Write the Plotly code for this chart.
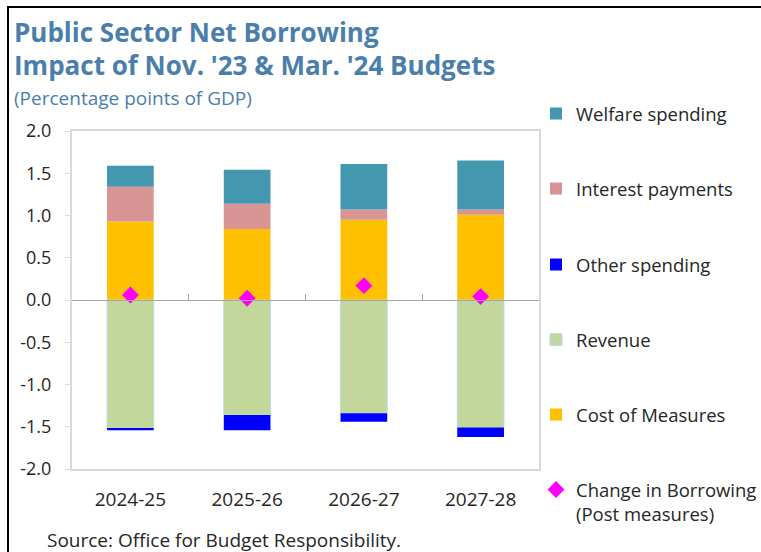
import plotly.graph_objects as go

# Fiscal years on the category axis
years = ["2024-25", "2025-26", "2026-27", "2027-28"]

# Components of the change in net borrowing (percentage points of GDP)
cost_of_measures = [0.93, 0.84, 0.95, 1.01]
interest_payments = [0.41, 0.30, 0.12, 0.06]
welfare_spending = [0.25, 0.40, 0.54, 0.58]
revenue = [-1.52, -1.36, -1.34, -1.51]
other_spending = [-0.02, -0.18, -0.10, -0.11]
change_in_borrowing = [0.06, 0.02, 0.17, 0.04]

# Value axis ticks
y_tick_values = [-2.0, -1.5, -1.0, -0.5, 0.0, 0.5, 1.0, 1.5, 2.0]
y_tick_labels = ["-2.0", "-1.5", "-1.0", "-0.5", "0.0", "0.5", "1.0", "1.5", "2.0"]

FONT = "Open Sans"
TEXT = "#262626"
TITLE_BLUE = "#4a7eab"
FRAME_GREY = "#d9d9d9"
AXIS_GREY = "#a6a6a6"

# Plot area in pixels, used to place the free-floating text
L, R, T, B = 72, 539, 131, 469
W, H = 761, 552


def px_x(px):
    return (px - L) / (R - L)


def px_y(py):
    return (B - py) / (B - T)


fig = go.Figure()

# name, values, fill, outline, legend id, vertical centre of the legend entry
bar_series = [
    ("Cost of Measures", cost_of_measures, "#ffc000", None, "legend5", 414),
    ("Revenue", revenue, "#c4d79b", "#b7dde8", "legend4", 339),
    ("Other spending", other_spending, "#0000ff", None, "legend3", 264),
    ("Interest payments", interest_payments, "#d99594", None, "legend2", 188),
    ("Welfare spending", welfare_spending, "#4397ae", None, "legend", 113),
]
legend_rows = {}
for name, values, color, edge, legend_id, row in bar_series:
    fig.add_trace(
        go.Bar(
            name=name,
            x=years,
            y=values,
            marker=dict(
                color=color,
                line=dict(color=edge if edge else color, width=1 if edge else 0),
            ),
            legend=legend_id,
        )
    )
    legend_rows[legend_id] = row

fig.add_trace(
    go.Scatter(
        name="Change in Borrowing<br>(Post measures)",
        x=years,
        y=change_in_borrowing,
        xaxis="x2",
        mode="markers",
        marker=dict(symbol="diamond", size=13, color="#ff00ff"),
        legend="legend6",
    )
)
legend_rows["legend6"] = 489

legend_style = dict(
    x=px_x(536),
    xanchor="left",
    yanchor="top",
    font=dict(family=FONT, size=18.5, color=TEXT),
    valign="top",
    bgcolor="rgba(0,0,0,0)",
)
legends = {lid: dict(legend_style, y=px_y(row - 18)) for lid, row in legend_rows.items()}

fig.update_layout(
    width=W,
    height=H,
    margin=dict(l=L, r=W - R, t=T, b=H - B, pad=0, autoexpand=False),
    paper_bgcolor="white",
    plot_bgcolor="white",
    barmode="relative",
    bargap=0.6,
    font=dict(family=FONT, size=18, color=TEXT),
    showlegend=True,
    xaxis=dict(
        type="category",
        categoryorder="array",
        categoryarray=years,
        range=[-0.5, 3.5],
        showline=True,
        mirror=True,
        linecolor=FRAME_GREY,
        linewidth=2,
        ticks="",
        showgrid=False,
        zeroline=False,
        tickfont=dict(size=19, color=TEXT),
        ticklabelstandoff=12,
    ),
    xaxis2=dict(
        type="category",
        categoryorder="array",
        categoryarray=years,
        range=[-0.5, 3.5],
        overlaying="x",
        anchor="free",
        position=0.5,
        side="bottom",
        showline=True,
        linecolor=AXIS_GREY,
        linewidth=1,
        ticks="inside",
        tickson="boundaries",
        ticklen=6,
        tickcolor=AXIS_GREY,
        showticklabels=False,
        showgrid=False,
        zeroline=False,
    ),
    yaxis=dict(
        range=[-2, 2],
        tickvals=y_tick_values,
        ticktext=y_tick_labels,
        ticks="outside",
        ticklen=5,
        tickcolor=FRAME_GREY,
        showline=True,
        mirror=True,
        linecolor=FRAME_GREY,
        linewidth=2,
        showgrid=False,
        zeroline=False,
        tickfont=dict(size=18, color=TEXT),
        ticklabelstandoff=10,
    ),
    **legends,
)

annotations = [
    dict(text="<b>Public Sector Net Borrowing</b>", x=px_x(12), y=px_y(32),
         font=dict(size=26, color=TITLE_BLUE)),
    dict(text="<b>Impact of Nov. '23 &amp; Mar. '24 Budgets</b>", x=px_x(12), y=px_y(65),
         font=dict(size=26, color=TITLE_BLUE)),
    dict(text="(Percentage points of GDP)", x=px_x(12), y=px_y(98),
         font=dict(size=19, color=TITLE_BLUE)),
    dict(text="Source: Office for Budget Responsibility.", x=px_x(45), y=px_y(540),
         font=dict(size=19, color=TEXT)),
]
for a in annotations:
    fig.add_annotation(xref="paper", yref="paper", xanchor="left", yanchor="middle",
                       showarrow=False, font_family=FONT, **a)

# Outer frame edges (left and top)
fig.add_shape(type="line", xref="paper", yref="paper",
              x0=px_x(8), x1=px_x(8), y0=px_y(560), y1=px_y(6),
              line=dict(color="black", width=2))
fig.add_shape(type="line", xref="paper", yref="paper",
              x0=px_x(8), x1=px_x(770), y0=px_y(7), y1=px_y(7),
              line=dict(color="black", width=2))

fig.write_html("out.html")
